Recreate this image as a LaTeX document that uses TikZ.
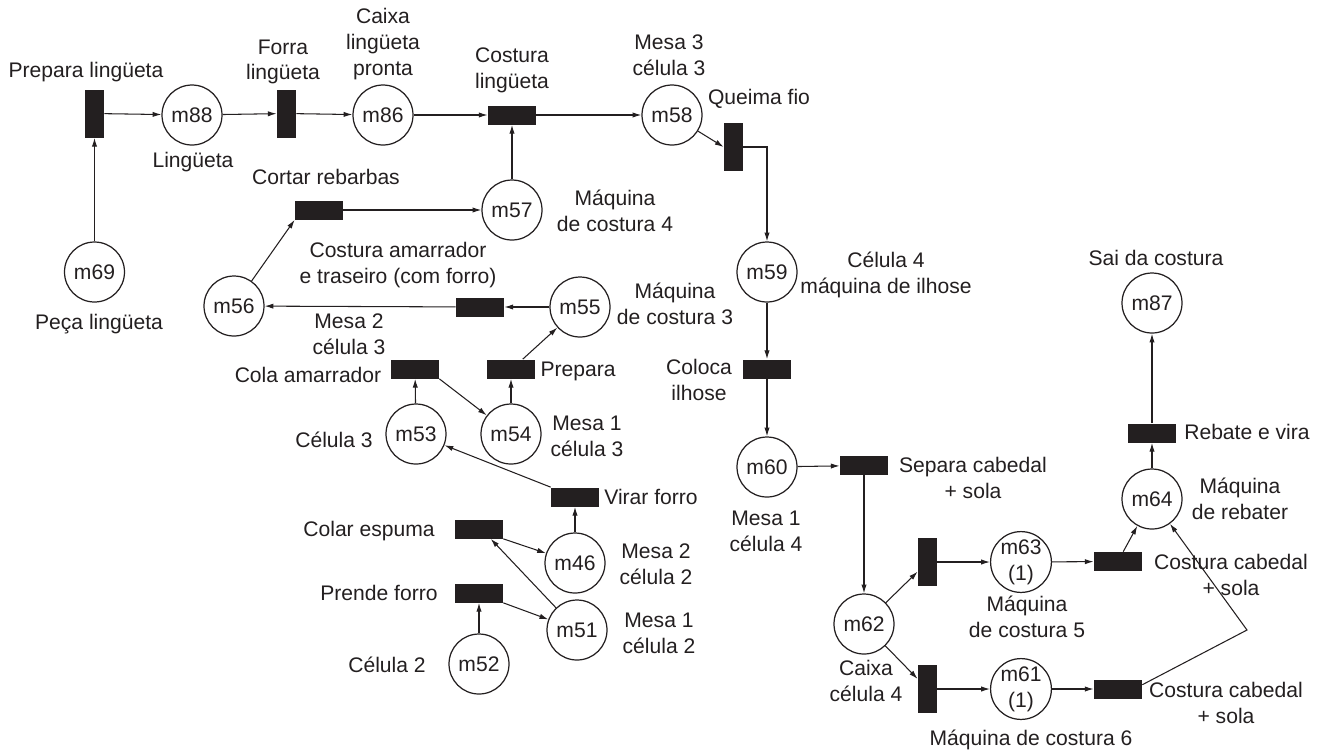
\documentclass[tikz,border=0pt]{standalone}
\usepackage{fontspec}
\setmainfont{Liberation Sans}
\usetikzlibrary{arrows.meta,calc}
\definecolor{ink}{RGB}{35,31,32}
\newcommand{\petrifont}{\fontsize{12}{14.7}\selectfont}
\begin{document}
\begin{tikzpicture}[x=0.02cm,y=-0.02cm,
  place/.style={circle,draw=ink,line width=0.7pt,minimum size=1.2cm,inner sep=0pt,
                align=center,font=\petrifont,text=ink},
  hbar/.style={rectangle,fill=ink,minimum width=0.96cm,minimum height=0.38cm,inner sep=0pt},
  vbar/.style={rectangle,fill=ink,minimum width=0.38cm,minimum height=0.96cm,inner sep=0pt},
  lab/.style={align=center,inner sep=0pt,font=\petrifont,text=ink},
  arc/.style={draw=ink,line width=0.6pt,-{Latex[length=5pt,width=3pt]}},
]
\useasboundingbox (0,0) rectangle (1326,755);

% places
\node[place] (m88) at (192,115) {m88};
\node[place] (m86) at (383,115) {m86};
\node[place] (m69) at (94.5,272) {m69};
\node[place] (m56) at (234,306) {m56};
\node[place] (m57) at (512,210) {m57};
\node[place] (m58) at (672,115) {m58};
\node[place] (m59) at (767,272) {m59};
\node[place] (m55) at (580,307) {m55};
\node[place] (m53) at (416,434) {m53};
\node[place] (m54) at (511,434) {m54};
\node[place] (m46) at (575,563) {m46};
\node[place] (m51) at (577,630) {m51};
\node[place] (m52) at (479,664) {m52};
\node[place] (m60) at (767,467) {m60};
\node[place] (m62) at (864,624) {m62};
\node[place] (m63) at (1021,562) {m63\\(1)};
\node[place] (m61) at (1021,689) {m61\\(1)};
\node[place] (m64) at (1152,499) {m64};
\node[place] (m87) at (1152,303) {m87};

% transitions
\node[vbar] (tPrep) at (94.5,113.5) {};
\node[vbar] (tForra) at (286.5,113.5) {};
\node[hbar] (tCostLing) at (512,115) {};
\node[vbar] (tQueima) at (733.5,147) {};
\node[hbar] (tCortar) at (319,210) {};
\node[hbar] (tCostAm) at (480,307) {};
\node[hbar] (tCola) at (415,369) {};
\node[hbar] (tPrepara) at (511,369) {};
\node[hbar] (tVirar) at (575,497) {};
\node[hbar] (tColarEsp) at (479,529) {};
\node[hbar] (tPrende) at (479,593) {};
\node[hbar] (tColoca) at (767,369) {};
\node[hbar] (tSepara) at (864,465.5) {};
\node[vbar] (tUp) at (927.5,562) {};
\node[vbar] (tDown) at (927.5,689) {};
\node[hbar] (tCost5) at (1118,561.5) {};
\node[hbar] (tCost6) at (1118,689) {};
\node[hbar] (tRebate) at (1152,433) {};
\coordinate (bend) at (1247,630);

% arcs
\draw[arc] (m69) -- (tPrep);
\draw[arc] (tPrep) -- (m88);
\draw[arc] (m88) -- (tForra);
\draw[arc] (tForra) -- (m86);
\draw[arc] (m86) -- (tCostLing);
\draw[arc] (m57) -- (tCostLing);
\draw[arc] (tCostLing) -- (m58);
\draw[arc] (m58) -- (tQueima.west);
\draw[arc] (tQueima.east) -| (m59.north);
\draw[arc] (m56) -- (tCortar.south west);
\draw[arc] (tCortar) -- (m57);
\draw[arc] (m55) -- (tCostAm);
\draw[arc] (tCostAm) -- (m56);
\draw[arc] (m53) -- (tCola);
\draw[arc] (tCola.south east) -- (m54);
\draw[arc] (m54) -- (tPrepara);
\draw[arc] (tPrepara.40) -- (m55);
\draw[arc] (tVirar.north west) -- (m53);
\draw[arc] (m46) -- (tVirar);
\draw[arc] (tColarEsp.south east) -- (m46);
\draw[arc] (m51) -- (tColarEsp.-40);
\draw[arc] (tPrende.south east) -- (m51);
\draw[arc] (m52) -- (tPrende);
\draw[arc] (m59) -- (tColoca);
\draw[arc] (tColoca) -- (m60);
\draw[arc] (m60) -- (tSepara);
\draw[arc] (tSepara) -- (m62);
\draw[arc] (m62) -- (tUp);
\draw[arc] (m62) -- (tDown);
\draw[arc] (tUp) -- (m63);
\draw[arc] (tDown) -- (m61);
\draw[arc] (m63) -- (tCost5);
\draw[arc] (m61) -- (tCost6);
\draw[arc] (tCost5.62) -- (m64);
\draw[arc] (tCost6.10) -- (bend) -- (m64);
\draw[arc] (m64) -- (tRebate);
\draw[arc] (tRebate) -- (m87);

% labels
\node[lab] (l1) at (86,72) {Prepara lingüeta};
\node[lab] (l2) at (193,162) {Lingüeta};
\node[lab] (l3) at (283,62) {Forra\\lingüeta};
\node[lab] (l4) at (383,44) {Caixa\\lingüeta\\pronta};
\node[lab] (l5) at (99,324) {Peça lingüeta};
\node[lab] (l6) at (326,177) {Cortar rebarbas};
\node[lab] (l7) at (512,70) {Costura\\lingüeta};
\node[lab] (l8) at (669,55) {Mesa 3\\célula 3};
\node[lab] (l9) at (759,99) {Queima fio};
\node[lab] (l10) at (615,211) {Máquina\\de costura 4};
\node[lab] (l11) at (398,265) {Costura amarrador\\e traseiro (com forro)};
\node[lab] (l12) at (349,334) {Mesa 2\\célula 3};
\node[lab] (l13) at (675,304) {Máquina\\de costura 3};
\node[lab] (l14) at (308,375) {Cola amarrador};
\node[lab] (l15) at (578,371) {Prepara};
\node[lab] (l16) at (334,440) {Célula 3};
\node[lab] (l17) at (587,436) {Mesa 1\\célula 3};
\node[lab] (l18) at (651,497) {Virar forro};
\node[lab] (l19) at (369,531) {Colar espuma};
\node[lab] (l20) at (656,564) {Mesa 2\\célula 2};
\node[lab] (l21) at (379,593) {Prende forro};
\node[lab] (l22) at (659,633) {Mesa 1\\célula 2};
\node[lab] (l23) at (387,665) {Célula 2};
\node[lab] (l24) at (886,275) {Célula 4\\máquina de ilhose};
\node[lab] (l25) at (699,380) {Coloca\\ilhose};
\node[lab] (l26) at (973,478) {Separa cabedal\\+ sola};
\node[lab] (l27) at (766,531) {Mesa 1\\célula 4};
\node[lab] (l28) at (866,681) {Caixa\\célula 4};
\node[lab] (l29) at (1027,617) {Máquina\\de costura 5};
\node[lab] (l30) at (1031,740) {Máquina de costura 6};
\node[lab] (l31) at (1240,499) {Máquina\\de rebater};
\node[lab] (l32) at (1231,575) {Costura cabedal\\+ sola};
\node[lab] (l33) at (1226,703) {Costura cabedal\\+ sola};
\node[lab] (l34) at (1247,432) {Rebate e vira};
\node[lab] (l35) at (1156,258) {Sai da costura};
\end{tikzpicture}
\end{document}
